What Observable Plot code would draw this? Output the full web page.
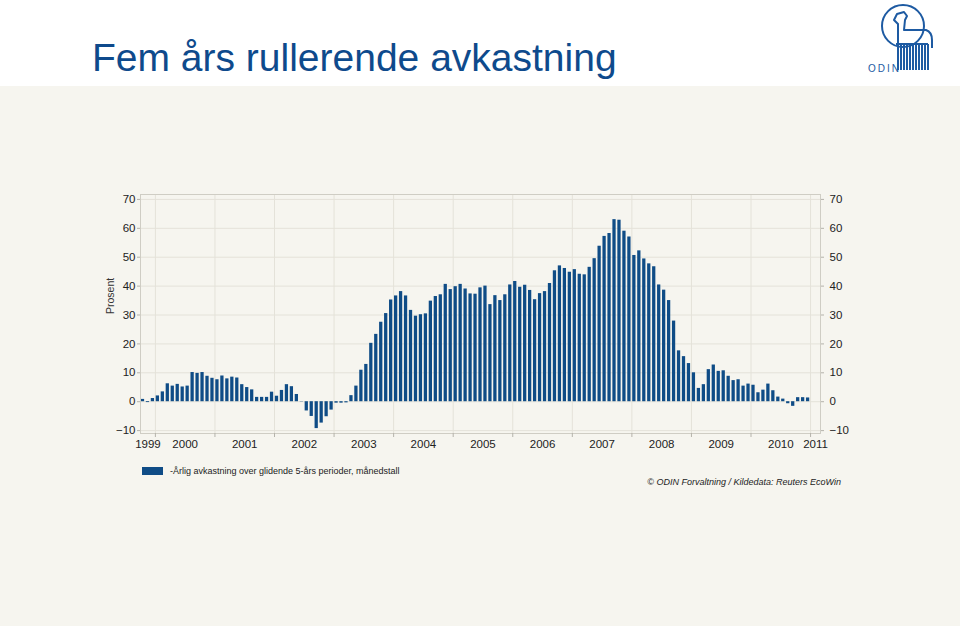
<!DOCTYPE html>
<html><head><meta charset="utf-8">
<script src="https://cdn.jsdelivr.net/npm/d3@7"></script>
<script src="https://cdn.jsdelivr.net/npm/@observablehq/plot@0.6"></script>
<style>
body{margin:0;width:960px;height:631px;position:relative;background:#fff;font-family:"Liberation Sans",Arial,sans-serif;overflow:hidden}
#title{position:absolute;left:92px;top:38px;font-size:39px;color:#0e4a8c;white-space:nowrap;line-height:1}
#panel{position:absolute;left:0;top:86px;width:960px;height:540px;background:#f6f5ef}
#chart{position:absolute;left:0;top:0}
#legend{position:absolute;left:142px;top:380px;font-size:9px;color:#222;white-space:nowrap}
#legend span.sw{display:inline-block;width:21px;height:8px;background:#0f4c86;vertical-align:middle;margin-right:7px;position:relative;top:-1px}
#credit{position:absolute;right:119px;top:391px;font-size:9px;font-style:italic;color:#222;white-space:nowrap}
#logo{position:absolute;left:860px;top:0}
</style></head>
<body>
<div id="title">Fem års rullerende avkastning</div>
<svg id="logo" width="100" height="80" viewBox="0 0 100 80">
  <g fill="none" stroke="#1d5aa2" stroke-width="2" stroke-linejoin="round">
    <circle cx="43" cy="26" r="21"/>
    <path d="M38 44 L38 24 L34 20 L37 14 L44 12 L47 16 L45 20 L44 30 L66 30 Q72 32 72 40 L72 48"/>
    <path d="M36 44 H68"/>
    <path d="M38 44 V70 M41 44 V70 M44 44 V70 M47 44 V70 M50 44 V70 M53 44 V70 M56 44 V70 M59 44 V70 M62 44 V70 M65 44 V70 M68 44 V70"/>
  </g>
  <text x="8" y="72" font-size="10" fill="#1d5aa2" letter-spacing="2" font-family="Liberation Sans, Arial">ODIN</text>
</svg>
<div id="panel">
  <div id="chart"></div>
  <div id="legend"><span class="sw"></span>-Årlig avkastning over glidende 5-års perioder, månedstall</div>
  <div id="credit">© ODIN Forvaltning / Kildedata: Reuters EcoWin</div>
</div>
<script>
// Monthly values, October 1999 through December 2010 (percent)
const firstYear = 1999, firstMonth = 10;
const values = [
  0.8, -0.3, 1.1,
  2.0, 3.4, 6.2, 5.4, 6.0, 5.1, 5.4, 10.1, 9.8, 10.1, 8.8, 8.1,
  7.6, 8.9, 7.9, 8.5, 8.2, 5.9, 4.9, 4.1, 1.5, 1.5, 1.5, 3.3,
  1.9, 3.9, 5.9, 5.2, 2.5, -0.1, -3.2, -5.1, -9.3, -7.4, -5.2, -2.9,
  -0.5, -0.5, -0.4, 2.1, 5.4, 10.9, 12.9, 20.2, 23.3, 27.5, 30.5, 35.2,
  36.6, 38.1, 36.6, 31.6, 29.6, 30.1, 30.4, 34.8, 36.4, 37.0, 40.6, 38.8,
  39.8, 40.6, 39.0, 37.3, 37.2, 39.4, 40.0, 33.6, 36.7, 35.0, 37.0, 40.4,
  41.6, 39.6, 40.3, 38.5, 35.3, 37.4, 38.1, 40.9, 45.3, 47.0, 46.1, 44.8,
  45.7, 44.1, 43.9, 46.5, 49.5, 53.8, 57.2, 58.2, 63.0, 62.8, 59.0, 57.0,
  50.6, 52.2, 49.4, 47.7, 46.7, 40.4, 38.6, 35.0, 27.9, 17.6, 15.6, 13.2,
  10.0, 4.6, 5.9, 11.1, 12.7, 10.5, 10.7, 8.8, 7.3, 7.6, 5.4, 6.1,
  5.7, 3.1, 4.0, 6.1, 3.8, 1.6, 0.9, -0.7, -1.6, 1.4, 1.4, 1.3
];
const yearLabels = ["1999","2000","2001","2002","2003","2004","2005","2006","2007","2008","2009","2010","2011"];
const yTicks = [-10, 0, 10, 20, 30, 40, 50, 60, 70];
const axisMonths = 137; // axis runs Oct 1999 .. end Feb 2011

const bars = values.map((v, i) => ({i, v}));
const yearStart = y => (y - firstYear) * 12 - (firstMonth - 1);
const years = yearLabels.map(t => {
  const s = yearStart(+t);
  const a = Math.max(s, 0), b = Math.min(s + 12, axisMonths);
  return {label: t, start: s, mid: (a + b) / 2};
});
const boundaries = years.map(d => d.start).filter(s => s > 0 && s < axisMonths);

const chart = Plot.plot({
  width: 960, height: 540,
  marginLeft: 140, marginRight: 140, marginTop: 108, marginBottom: 193,
  x: {domain: [0, axisMonths], axis: null},
  y: {domain: [-11, 71.7], axis: null},
  style: {background: "transparent", fontFamily: "Liberation Sans, Arial, sans-serif", fontSize: "11.5px", color: "#222"},
  marks: [
    Plot.ruleY(yTicks, {stroke: "#e4e2d9"}),
    Plot.ruleX(boundaries, {stroke: "#e4e2d9"}),
    Plot.rectY(bars, {x1: "i", x2: d => d.i + 1, y1: 0, y2: "v", fill: "#0f4c86", insetLeft: 0.85, insetRight: 0.85}),
    Plot.frame({stroke: "#cfcdc4"}),
    Plot.axisY({ticks: yTicks, anchor: "left", label: null, tickSize: 3, tickPadding: 2, stroke: "#b5b3ab", fill: "#222"}),
    Plot.axisY({ticks: yTicks, anchor: "right", label: null, tickSize: 3, tickPadding: 6, stroke: "#b5b3ab", fill: "#222"}),
    Plot.axisX({ticks: boundaries, label: null, tickFormat: () => "", tickSize: 4, stroke: "#b5b3ab"}),
    Plot.text(years, {x: "mid", text: "label", frameAnchor: "bottom", dy: 14, fill: "#222"}),
    Plot.text(["Prosent"], {frameAnchor: "left", dx: -30, rotate: -90, fontSize: 10.5, fill: "#333"})
  ]
});
document.getElementById("chart").appendChild(chart);
</script>
</body></html>
